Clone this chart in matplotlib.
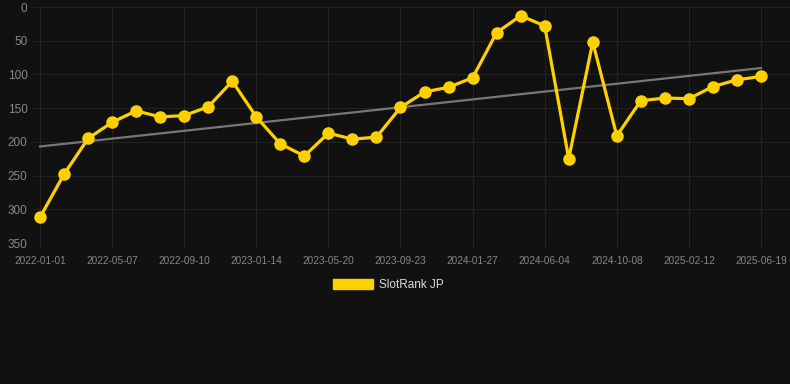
import matplotlib
matplotlib.use("Agg")
import matplotlib.pyplot as plt
from matplotlib.patches import Patch
import numpy as np

plt.rcParams['font.family'] = ['Liberation Sans', 'DejaVu Sans']

# rank per observation (lower = better), 31 points
ranks = [312, 248, 195, 171, 154, 163, 161, 148, 110, 163, 203, 221,
         187, 196, 193, 149, 126, 119, 105, 38, 13, 28, 225, 52, 191,
         139, 135, 136, 118, 108, 103]
# every third point is labelled
tick_labels = ['2022-01-01', '2022-05-07', '2022-09-10', '2023-01-14',
               '2023-05-20', '2023-09-23', '2024-01-27', '2024-06-04',
               '2024-10-08', '2025-02-12', '2025-06-19']
series_name = 'SlotRank JP'

bg = '#111111'
yellow = '#FFD000'

fig = plt.figure(figsize=(7.9, 3.84), dpi=100, facecolor=bg)
ax = fig.add_axes([33 / 790, 1 - 243 / 384, 757 / 790, 236 / 384])
ax.set_facecolor(bg)

x = np.arange(len(ranks))
slope, icpt = np.polyfit(x, ranks, 1)
ax.plot(x, slope * x + icpt, color='#777777', lw=1.6, zorder=2)
ax.plot(x, ranks, color=yellow, lw=2.3, marker='o', markersize=8, zorder=3)

ax.set_ylim(350, 0)
ax.set_xlim(-7 / 24.03, 30 + 29 / 24.03)
ax.set_yticks(range(0, 351, 50))
ax.set_xticks(x[::3])
ax.set_xticklabels(tick_labels)

ax.grid(True, color='#232323', lw=0.8)
for s in ax.spines.values():
    s.set_visible(False)
ax.tick_params(axis='y', length=0, colors='#888888', labelsize=8.5, pad=4)
ax.tick_params(axis='x', length=4, color='#262626', colors='#888888', labelsize=7.2, pad=5)
ax.axhline(350, color='#262626', lw=0.8)

handle = Patch(facecolor=yellow, edgecolor=yellow)
fig.legend([handle], [series_name], loc='center', bbox_to_anchor=(0.492, 1 - 285 / 384),
           frameon=False, fontsize=8.5, labelcolor='#dddddd',
           handlelength=3.4, handleheight=1.0, handletextpad=0.5)

fig.savefig('out.png', dpi=100, facecolor=bg)
